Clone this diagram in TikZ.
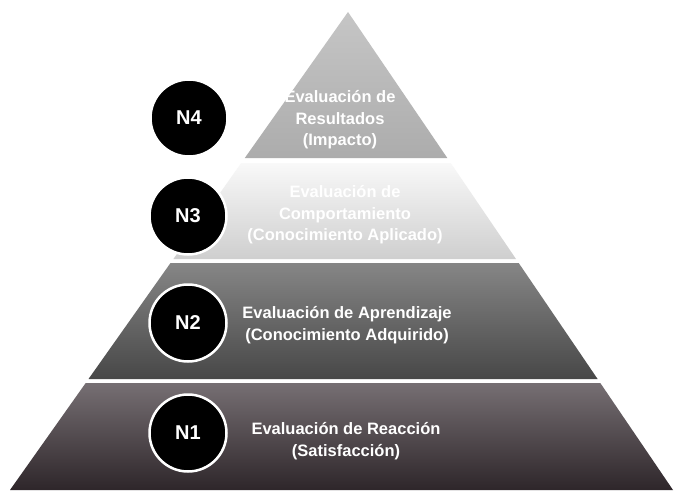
\documentclass[tikz,border=0pt]{standalone}
\usepackage{fontspec}
\setmainfont{Liberation Sans}
\begin{document}
\begin{tikzpicture}[x=1pt,y=-1pt,
  lvl/.style={circle,fill=black,draw=white,line width=2.5pt,minimum size=77pt,inner sep=0pt,
    text=white,font=\fontsize{20}{23}\selectfont\bfseries},
  tiertext/.style={text=white,align=center,font=\fontsize{16.5}{21.5}\selectfont\bfseries}]
\useasboundingbox (0,0) rectangle (674,495);
\fill[white] (0,0) rectangle (674,495);
% tiers
\shade[top color=gray!45!white,bottom color=gray!65!white] (348,12) -- (447.3,158) -- (244.8,158) -- cycle;
\shade[top color=white!95!gray,bottom color=gray!38!white] (241.2,163) -- (450.7,163) -- (516,259) -- (173.4,259) -- cycle;
\shade[top color=gray!95!white,bottom color=black!72!white] (170.5,263) -- (518.7,263) -- (597.6,379) -- (88.5,379) -- cycle;
\shade[top color={rgb,255:red,118;green,111;blue,115},bottom color={rgb,255:red,46;green,38;blue,42}] (85.7,383) -- (600.3,383) -- (673,490) -- (10,490) -- cycle;
% circles
\node[lvl] (c4) at (189,118) {N4};
\node[lvl] (c3) at (188,216) {N3};
\node[lvl] (c2) at (188,323) {N2};
\node[lvl] (c1) at (188,433) {N1};
% texts
\node[tiertext] (t4) at (340,120) {Evaluación de\\Resultados\\(Impacto)};
\node[tiertext] (t3) at (345,215) {Evaluación de\\Comportamiento\\(Conocimiento Aplicado)};
\node[tiertext] (t2) at (347,325) {Evaluación de Aprendizaje\\(Conocimiento Adquirido)};
\node[tiertext] (t1) at (346,441) {Evaluación de Reacción\\(Satisfacción)};
\end{tikzpicture}
\end{document}
